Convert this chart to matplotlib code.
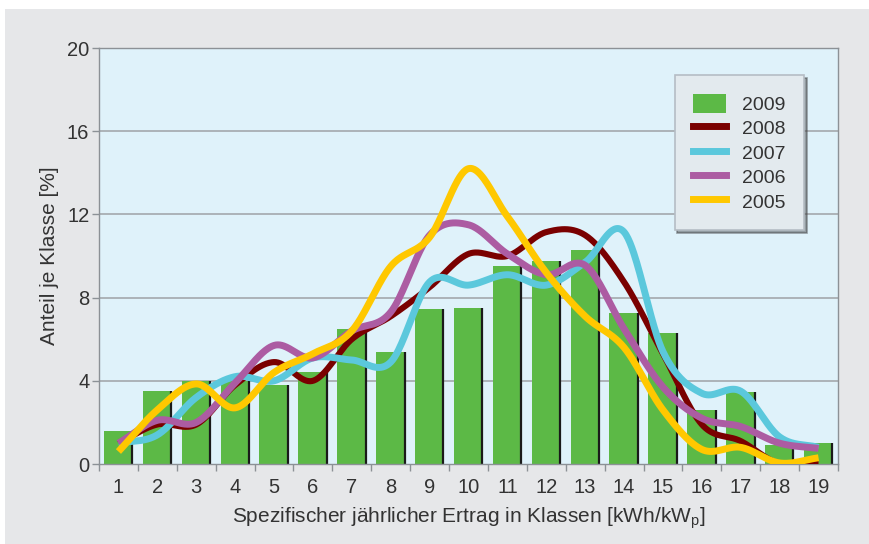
import numpy as np
import matplotlib.pyplot as plt
from matplotlib.patches import Patch, Rectangle
from matplotlib.lines import Line2D

plt.rcParams["font.family"] = ["Liberation Sans", "DejaVu Sans"]
plt.rcParams["mathtext.default"] = "regular"

# Klassen 1..19
classes = np.arange(1, 20)
bars_2009 = [1.6, 3.5, 4.0, 4.0, 3.8, 4.4, 6.5, 5.4, 7.45, 7.5,
             9.5, 9.75, 10.3, 7.25, 6.3, 2.6, 3.45, 0.9, 1.0]
line_2008 = [1.0, 1.9, 1.9, 3.8, 4.9, 4.0, 6.0, 7.1, 8.5, 10.1,
             10.0, 11.15, 11.0, 8.75, 5.3, 1.9, 1.1, 0.0, 0.0]
line_2007 = [1.0, 1.4, 3.2, 4.2, 4.0, 5.1, 5.0, 4.9, 8.75, 8.6,
             9.1, 8.6, 9.7, 11.15, 5.4, 3.4, 3.5, 1.3, 0.8]
line_2006 = [1.0, 2.1, 2.0, 3.9, 5.7, 5.1, 6.4, 7.3, 11.0, 11.5,
             10.1, 9.1, 9.55, 6.5, 3.7, 2.2, 1.8, 1.0, 0.75]
line_2005 = [0.6, 2.6, 3.85, 2.7, 4.4, 5.3, 6.4, 9.5, 10.9, 14.2,
             11.9, 9.2, 7.1, 5.6, 2.6, 0.7, 0.8, 0.05, 0.3]

yticks = [0, 4, 8, 12, 16, 20]
xlabel = "Spezifischer jährlicher Ertrag in Klassen [kWh/kW$_{p}$]"
ylabel = "Anteil je Klasse [%]"

GREEN = "#5cb946"
COLORS = {"2008": "#7a0000", "2007": "#5bc8dc", "2006": "#ac5ca2", "2005": "#ffc800"}
TEXT = "#333333"


def smooth_curve(x, y, n=40):
    """Catmull-Rom curve through (x, y), only used to draw smoothed lines."""
    x = np.asarray(x, float)
    y = np.asarray(y, float)
    m = np.empty_like(y)
    m[1:-1] = (y[2:] - y[:-2]) / 2
    m[0] = y[1] - y[0]
    m[-1] = y[-1] - y[-2]
    xs_all, ys_all = [], []
    t = np.linspace(0, 1, n, endpoint=False)
    h00 = 2 * t ** 3 - 3 * t ** 2 + 1
    h10 = t ** 3 - 2 * t ** 2 + t
    h01 = -2 * t ** 3 + 3 * t ** 2
    h11 = t ** 3 - t ** 2
    for i in range(len(x) - 1):
        xs_all.append(x[i] + t * (x[i + 1] - x[i]))
        ys_all.append(h00 * y[i] + h10 * m[i] + h01 * y[i + 1] + h11 * m[i + 1])
    xs_all.append([x[-1]])
    ys_all.append([y[-1]])
    return np.concatenate(xs_all), np.concatenate(ys_all)


fig = plt.figure(figsize=(8.7, 5.44), dpi=100)
fig.patch.set_facecolor("white")
fig.patches.append(Rectangle((5 / 870, 0), 1, 1 - 9 / 544, transform=fig.transFigure,
                             facecolor="#e6e7e9", edgecolor="none", zorder=-10))

ax = fig.add_axes([99 / 870, 80 / 544, 739 / 870, 416 / 544])
ax.set_facecolor("#dff2fa")

for v in yticks[1:-1]:
    ax.axhline(v, color="#a3a8ad", lw=1.2, zorder=1)

bw = 0.75
ax.bar(classes, bars_2009, width=bw, color=GREEN, zorder=2)
ax.vlines(classes + bw / 2 - 0.02, 0, bars_2009, color="#1a1a1a", lw=1.6, zorder=2.5)

series = [("2008", line_2008, 4.4), ("2007", line_2007, 5.0),
          ("2006", line_2006, 5.0), ("2005", line_2005, 5.0)]
for i, (name, vals, lw) in enumerate(series):
    xs, ys = smooth_curve(classes, vals)
    ax.plot(xs, ys, color=COLORS[name], lw=lw, solid_capstyle="butt", zorder=3 + i)

ax.set_xlim(0.5, 19.5)
ax.set_ylim(0, 20)
ax.set_yticks(yticks)
ax.set_xticks(classes)
ax.set_xticks(np.arange(0.5, 20.0, 1.0), minor=True)
ax.tick_params(axis="x", which="major", length=0, pad=10, labelsize=14.5, labelcolor=TEXT)
ax.tick_params(axis="x", which="minor", length=5, width=1, color="#8c9196")
ax.tick_params(axis="y", length=5, width=1, color="#8c9196", labelsize=14.5,
               labelcolor=TEXT, pad=2)
for s in ax.spines.values():
    s.set_color("#8c9196")
    s.set_linewidth(1.0)

ax.set_xlabel(xlabel, fontsize=15, color=TEXT, labelpad=6)
ax.set_ylabel(ylabel, fontsize=15, color=TEXT, labelpad=6)

handles = [Patch(facecolor=GREEN, edgecolor="none", label="2009")]
for name, vals, lw in series:
    handles.append(Line2D([0], [0], color=COLORS[name], lw=5, label=name))
leg = ax.legend(handles=handles, loc="upper left", bbox_to_anchor=(0.779, 0.935),
                fontsize=14, frameon=True, fancybox=False, shadow=True,
                handlelength=1.7, handleheight=1.2, handletextpad=0.8,
                labelspacing=0.2, borderpad=0.95, borderaxespad=0)
leg.get_frame().set_facecolor("#e3eaee")
leg.get_frame().set_edgecolor("#b5bdc4")
leg.get_frame().set_linewidth(1.2)
for t in leg.get_texts():
    t.set_color(TEXT)

fig.savefig("out.png", dpi=100)
